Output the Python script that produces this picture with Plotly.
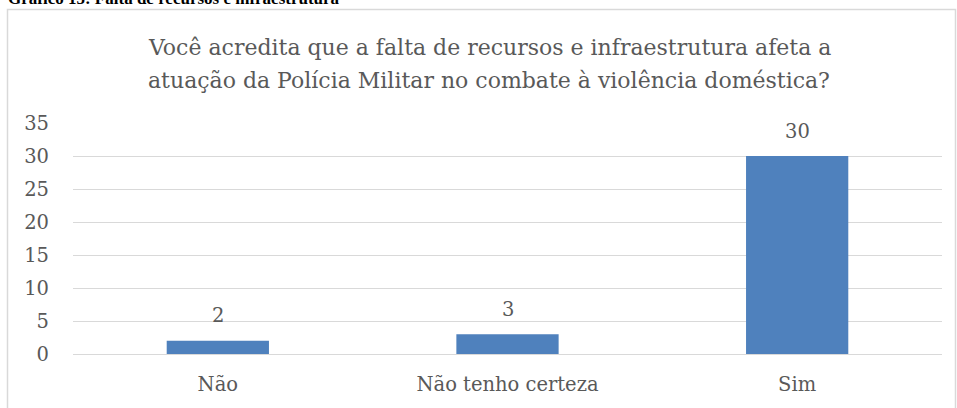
import plotly.graph_objects as go

categories = ["Não", "Não tenho certeza", "Sim"]
values = [2, 3, 30]
tick_vals = [0, 5, 10, 15, 20, 25, 30, 35]
title_lines = [
    "Você acredita que a falta de recursos e infraestrutura afeta a",
    "atuação da Polícia Militar no combate à violência doméstica?",
]
header = "Gráfico 15: Falta de recursos e infraestrutura"

W, H = 957, 408
L, R, T, B = 73, 15, 123, 54
pw, ph = W - L - R, H - T - B


def px(x):
    return (x - L) / pw


def py(y):
    return (H - B - y) / ph


font_family = "DejaVu Serif"
txt = "#595959"
fs = 19.5

fig = go.Figure(go.Bar(
    x=categories, y=values,
    marker=dict(color="#4F81BD", line=dict(width=0)),
    hoverinfo="x+y",
))

annotations = []
for c, v in zip(categories, values):
    annotations.append(dict(
        x=c, y=v, xref="x", yref="y", text=str(v), showarrow=False,
        yanchor="middle", yshift=25, font=dict(size=fs, color=txt, family=font_family)))

for i, line in enumerate(title_lines):
    annotations.append(dict(
        text=line, x=px(489), y=py(47 + 33 * i), xref="paper", yref="paper",
        xanchor="center", yanchor="middle", showarrow=False,
        font=dict(size=22, color=txt, family=font_family)))

annotations.append(dict(
    text="<b>" + header + "</b>", x=px(6), y=py(10), xref="paper", yref="paper",
    xanchor="left", yanchor="bottom", showarrow=False,
    font=dict(size=17, color="black", family="Liberation Serif")))

fig.update_layout(
    width=W, height=H,
    margin=dict(l=L, r=R, t=T, b=B, pad=0),
    paper_bgcolor="white", plot_bgcolor="white",
    bargap=0.647,
    showlegend=False,
    font=dict(family=font_family, color=txt),
    xaxis=dict(showgrid=False, showline=False, ticks="",
               tickfont=dict(size=fs, color=txt), ticklabelstandoff=16),
    yaxis=dict(range=[0, 35], tickvals=tick_vals, showgrid=True, gridcolor="#D9D9D9",
               gridwidth=1, zeroline=True, zerolinecolor="#D9D9D9", zerolinewidth=1,
               ticks="", tickfont=dict(size=fs, color=txt), ticklabelstandoff=23),
    annotations=annotations,
    shapes=[
        dict(type="rect", xref="paper", yref="paper",
             x0=px(7.5), x1=px(955.5), y0=py(9.5), y1=py(409),
             line=dict(color="#D9D9D9", width=1.5), fillcolor="rgba(0,0,0,0)", layer="below"),
    ],
)

fig.write_html(
    "out.html",
    config={"displayModeBar": False},
    post_script="document.body.style.margin='0';document.body.style.overflow='hidden';",
)
